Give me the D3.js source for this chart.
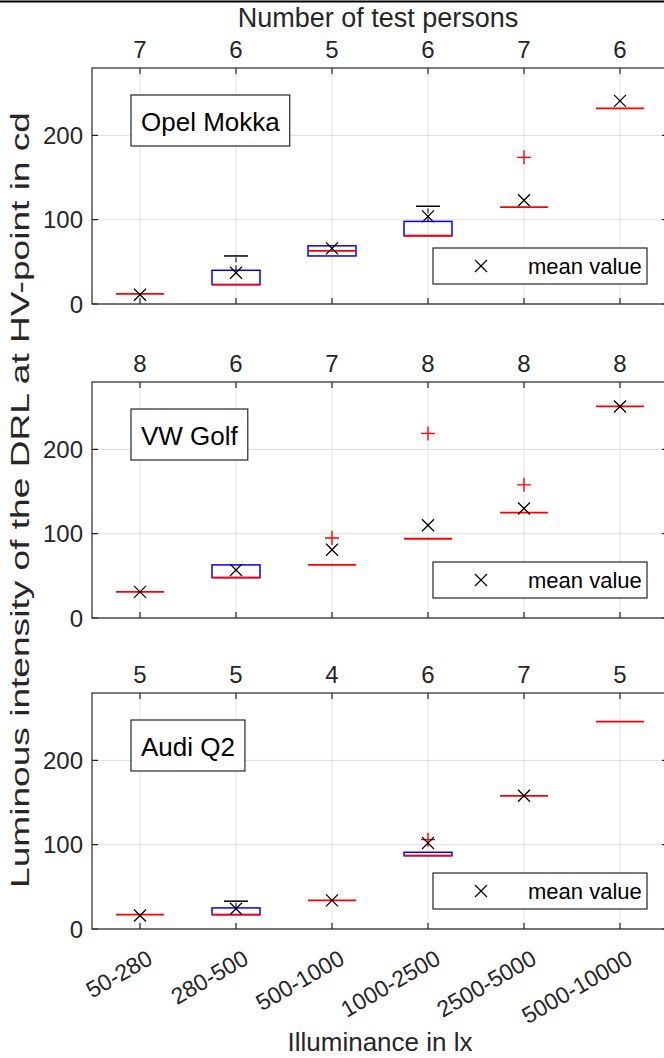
<!DOCTYPE html>
<html>
<head>
<meta charset="utf-8">
<script src="https://cdn.jsdelivr.net/npm/d3@7"></script>
<style>
    body { margin: 0; background: white; }
    svg { display: block; font-family: "Liberation Sans", Arial, Helvetica, sans-serif; }
</style>
</head>
<body>
<svg width="664" height="1058"></svg>
<script>
var categories = ["50-280", "280-500", "500-1000", "1000-2500", "2500-5000", "5000-10000"];
var cars = ["Opel Mokka", "VW Golf", "Audi Q2"];
var yTicks = [0, 100, 200];

// one row per car, one value per illuminance class
var persons = [
    [7, 6, 5, 6, 7, 6],
    [8, 6, 7, 8, 8, 8],
    [5, 5, 4, 6, 7, 5]
];
var q1 = [
    [12, 23, 57, 81, 115, 232],
    [31, 48, 63, 94, 125, 251],
    [17, 17, 34, 87, 158, 246]
];
var median = [
    [12, 23, 63, 81, 115, 232],
    [31, 48, 63, 94, 125, 251],
    [17, 17, 34, 87, 158, 246]
];
var q3 = [
    [12, 40, 69, 98, 115, 232],
    [31, 63, 63, 94, 125, 251],
    [17, 25, 34, 91, 158, 246]
];
var whiskerLow = [
    [12, 23, 57, 81, 115, 232],
    [31, 48, 63, 94, 125, 251],
    [17, 17, 34, 87, 158, 246]
];
var whiskerHigh = [
    [12, 57, 69, 116, 115, 232],
    [31, 63, 63, 94, 125, 251],
    [17, 33, 34, 91, 158, 246]
];
var outliers = [
    [[], [], [], [], [174], []],
    [[], [], [95], [219], [158], []],
    [[], [], [], [106], [], []]
];
var means = [
    [11, 37, 66, 104, 123, 241],
    [31, 57, 81, 110, 130, 251],
    [16, 24, 34, 102, 158, null]
];

var panelTops = [68, 382, 693];
var panelHeight = 236;
var axisColor = "#262626";

var xScale = d3.scaleLinear().domain([0.5, 6.5]).range([92, 668]);
var yScale = d3.scaleLinear().domain([0, 280]).range([panelHeight, 0]);

var svg = d3.select("svg");

// frame line at the very top
svg.append("line")
    .attr("x1", 0).attr("x2", 664)
    .attr("y1", 1.5).attr("y2", 1.5)
    .style("stroke", "black")
    .style("stroke-width", 2);

svg.append("text")
    .attr("x", 378).attr("y", 27)
    .attr("text-anchor", "middle")
    .style("font-size", "27px")
    .style("fill", axisColor)
    .text("Number of test persons");

cars.forEach(function (car, p) {
    var g = svg.append("g").attr("transform", "translate(0," + panelTops[p] + ")");
    var bw = (xScale(2) - xScale(1)) / 2;

    // grid
    g.selectAll(".vgrid").data(categories).enter().append("line")
        .attr("x1", (d, i) => xScale(i + 1)).attr("x2", (d, i) => xScale(i + 1))
        .attr("y1", 0).attr("y2", panelHeight)
        .style("stroke", "#e0e0e0").style("stroke-width", 1);
    g.selectAll(".hgrid").data(yTicks).enter().append("line")
        .attr("x1", xScale(0.5)).attr("x2", xScale(6.5))
        .attr("y1", d => yScale(d)).attr("y2", d => yScale(d))
        .style("stroke", "#e0e0e0").style("stroke-width", 1);

    // boxes
    g.selectAll(".box").data(categories).enter().append("rect")
        .attr("x", (d, i) => xScale(i + 1) - bw / 2)
        .attr("y", (d, i) => yScale(q3[p][i]))
        .attr("width", bw)
        .attr("height", (d, i) => yScale(q1[p][i]) - yScale(q3[p][i]))
        .attr("fill", "none")
        .style("stroke", "blue").style("stroke-width", 1.5);

    // whiskers
    categories.forEach(function (c, i) {
        var x = xScale(i + 1);
        if (whiskerHigh[p][i] > q3[p][i]) {
            g.append("line")
                .attr("x1", x).attr("x2", x)
                .attr("y1", yScale(q3[p][i])).attr("y2", yScale(whiskerHigh[p][i]))
                .style("stroke", "black").style("stroke-width", 1).style("stroke-dasharray", "5,3");
            g.append("line")
                .attr("x1", x - bw / 4).attr("x2", x + bw / 4)
                .attr("y1", yScale(whiskerHigh[p][i])).attr("y2", yScale(whiskerHigh[p][i]))
                .style("stroke", "black").style("stroke-width", 1.5);
        }
        if (whiskerLow[p][i] < q1[p][i]) {
            g.append("line")
                .attr("x1", x).attr("x2", x)
                .attr("y1", yScale(q1[p][i])).attr("y2", yScale(whiskerLow[p][i]))
                .style("stroke", "black").style("stroke-width", 1).style("stroke-dasharray", "5,3");
            g.append("line")
                .attr("x1", x - bw / 4).attr("x2", x + bw / 4)
                .attr("y1", yScale(whiskerLow[p][i])).attr("y2", yScale(whiskerLow[p][i]))
                .style("stroke", "black").style("stroke-width", 1.5);
        }
    });

    // medians
    g.selectAll(".median").data(categories).enter().append("line")
        .attr("x1", (d, i) => xScale(i + 1) - bw / 2)
        .attr("x2", (d, i) => xScale(i + 1) + bw / 2)
        .attr("y1", (d, i) => yScale(median[p][i]))
        .attr("y2", (d, i) => yScale(median[p][i]))
        .style("stroke", "red").style("stroke-width", 1.8);

    // outliers
    categories.forEach(function (c, i) {
        outliers[p][i].forEach(function (v) {
            var x = xScale(i + 1), y = yScale(v);
            g.append("path")
                .attr("d", "M" + (x - 7) + "," + y + "H" + (x + 7) + "M" + x + "," + (y - 7) + "V" + (y + 7))
                .style("stroke", "red").style("stroke-width", 1.4).attr("fill", "none");
        });
    });

    // mean values
    categories.forEach(function (c, i) {
        if (means[p][i] == null) return;
        var x = xScale(i + 1), y = yScale(means[p][i]);
        g.append("path")
            .attr("d", "M" + (x - 6) + "," + (y - 6) + "L" + (x + 6) + "," + (y + 6) + "M" + (x - 6) + "," + (y + 6) + "L" + (x + 6) + "," + (y - 6))
            .style("stroke", "black").style("stroke-width", 1.3).attr("fill", "none");
    });

    // axes box and ticks
    g.append("rect")
        .attr("x", xScale(0.5)).attr("y", 0)
        .attr("width", xScale(6.5) - xScale(0.5)).attr("height", panelHeight)
        .attr("fill", "none").style("stroke", axisColor).style("stroke-width", 1.2);

    g.selectAll(".xtick").data(categories).enter().append("path")
        .attr("d", (d, i) => "M" + xScale(i + 1) + ",0v6M" + xScale(i + 1) + "," + panelHeight + "v-6")
        .style("stroke", axisColor).style("stroke-width", 1.2);
    g.selectAll(".ytick").data(yTicks).enter().append("path")
        .attr("d", d => "M" + xScale(0.5) + "," + yScale(d) + "h6M" + xScale(6.5) + "," + yScale(d) + "h-6")
        .style("stroke", axisColor).style("stroke-width", 1.2);

    g.selectAll(".ylab").data(yTicks).enter().append("text")
        .attr("x", 83).attr("y", d => yScale(d))
        .attr("dy", "0.36em")
        .attr("text-anchor", "end")
        .style("font-size", "24px").style("fill", axisColor)
        .text(d => d);

    // number of test persons on top
    g.selectAll(".count").data(persons[p]).enter().append("text")
        .attr("x", (d, i) => xScale(i + 1)).attr("y", -10)
        .attr("text-anchor", "middle")
        .style("font-size", "24px").style("fill", axisColor)
        .text(d => d);

    // car name
    var name = g.append("text")
        .attr("x", 141).attr("y", 63)
        .style("font-size", "26px").style("fill", "black")
        .text(car);
    var nw = name.node().getComputedTextLength();
    g.insert("rect", "text")
        .attr("x", 131).attr("y", 27)
        .attr("width", nw + 20).attr("height", 51)
        .attr("fill", "white").style("stroke", axisColor).style("stroke-width", 1.2);

    // legend
    g.append("rect")
        .attr("x", 433).attr("y", 180)
        .attr("width", 214).attr("height", 36)
        .attr("fill", "white").style("stroke", axisColor).style("stroke-width", 1.2);
    g.append("path")
        .attr("d", "M475,192L487,204M475,204L487,192")
        .style("stroke", "black").style("stroke-width", 1.3);
    g.append("text")
        .attr("x", 528).attr("y", 206)
        .style("font-size", "22px").style("fill", "black")
        .text("mean value");

    // category labels under the last panel
    if (p == cars.length - 1) {
        g.selectAll(".xlab").data(categories).enter().append("text")
            .attr("transform", (d, i) => "translate(" + (xScale(i + 1) + 10) + "," + (panelHeight + 27) + ") rotate(-30)")
            .attr("dy", "0.35em")
            .attr("text-anchor", "end")
            .style("font-size", "23px").style("fill", axisColor)
            .text(d => d);
    }
});

svg.append("text")
    .attr("x", 380).attr("y", 1051)
    .attr("text-anchor", "middle")
    .style("font-size", "26px").style("fill", axisColor)
    .text("Illuminance in lx");

svg.append("text")
    .attr("transform", "translate(29,500) rotate(-90)")
    .attr("text-anchor", "middle")
    .attr("textLength", 776)
    .attr("lengthAdjust", "spacingAndGlyphs")
    .style("font-size", "26px").style("fill", axisColor)
    .text("Luminous intensity of the DRL at HV-point in cd");
</script>
</body>
</html>
